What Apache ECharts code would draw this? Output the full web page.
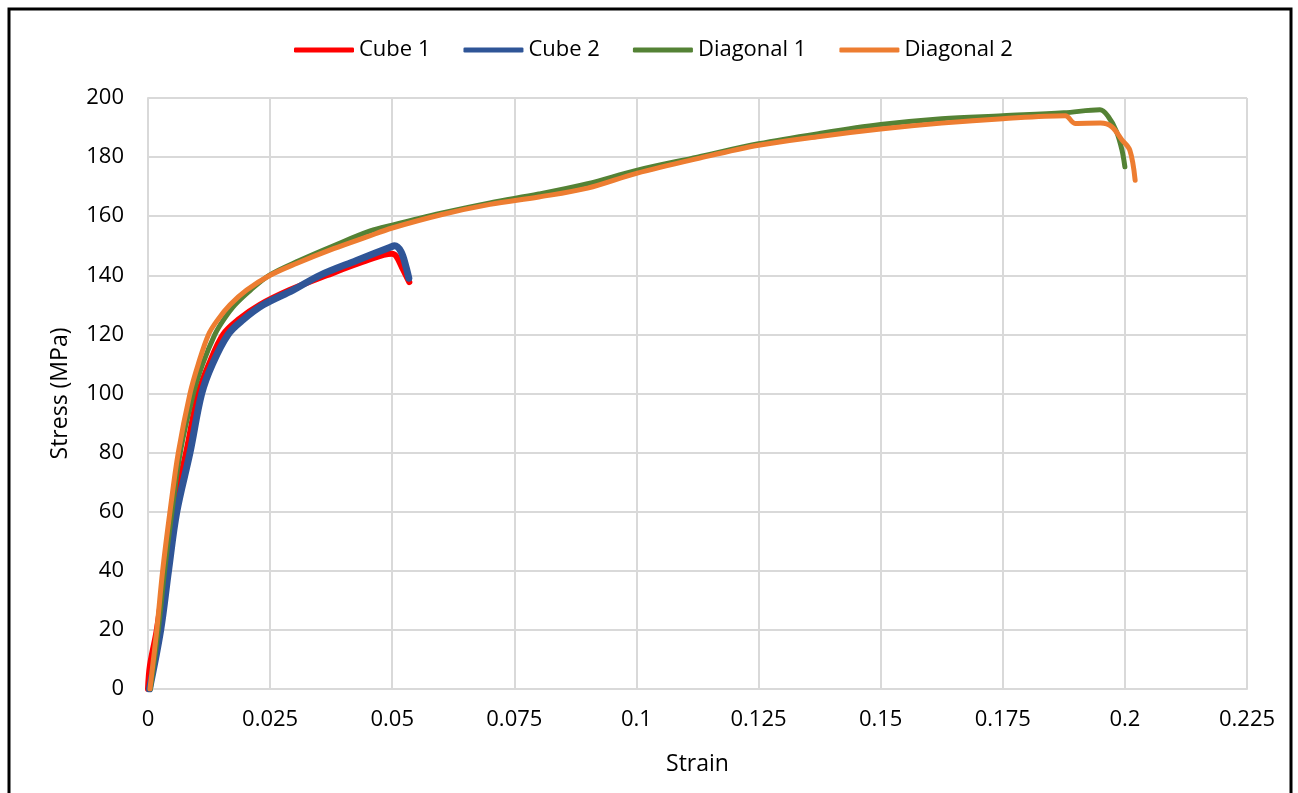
<!DOCTYPE html>
<html>
<head>
<meta charset="utf-8">
<script src="https://cdn.jsdelivr.net/npm/echarts@6/dist/echarts.min.js"></script>
<style>
html, body {
  margin: 0;
  padding: 0;
  background: #fff;
}
#chart {
  width: 1298px;
  height: 793px;
}
</style>
</head>
<body>
<div id="chart"></div>
<script>
// values
const seriesNames = ['Cube 1', 'Cube 2', 'Diagonal 1', 'Diagonal 2']

const cube1Strain = [0, 0.0004, 0.0018, 0.0035, 0.0052, 0.0078, 0.0103, 0.0125, 0.0154, 0.0185, 0.0229, 0.029, 0.0366, 0.0448, 0.0499, 0.0508, 0.0522, 0.0535]
const cube1Stress = [0, 8, 20, 40, 60, 80, 100, 110, 120, 125, 130, 135, 140, 145, 147.3, 146.5, 142, 137.7]

const cube2Strain = [0.0003, 0.0026, 0.0042, 0.0059, 0.0086, 0.011, 0.0132, 0.0164, 0.0195, 0.0236, 0.0297, 0.0352, 0.0427, 0.0496, 0.0505, 0.0518, 0.0528, 0.0534]
const cube2Stress = [0, 20, 40, 60, 80, 100, 110, 120, 125, 130, 135, 140, 145, 149.5, 150, 148, 143, 139]

const diag1Strain = [0.0005, 0.0021, 0.0034, 0.0049, 0.0066, 0.0093, 0.0112, 0.0137, 0.0155, 0.0178, 0.021, 0.0248, 0.031, 0.038, 0.0455, 0.05, 0.06, 0.07, 0.08, 0.09, 0.1, 0.1125, 0.125, 0.1375, 0.15, 0.1625, 0.175, 0.1875, 0.1949, 0.1966, 0.1983, 0.1994, 0.2]
const diag1Stress = [0, 20, 40, 60, 80, 100, 110, 120, 125, 130, 135, 140, 145, 150, 155, 157, 161, 164.5, 167.5, 171, 175.5, 180, 184.5, 188, 191, 193, 194, 195, 196, 193.7, 188.6, 182.4, 176.7]

const diag2Strain = [0.0004, 0.0018, 0.003, 0.0045, 0.0062, 0.0086, 0.0103, 0.0124, 0.0143, 0.0168, 0.0202, 0.025, 0.0304, 0.038, 0.0448, 0.05, 0.06, 0.07, 0.08, 0.09, 0.1, 0.1125, 0.125, 0.1375, 0.15, 0.1625, 0.175, 0.1878, 0.1898, 0.195, 0.1973, 0.1994, 0.201, 0.2021]
const diag2Stress = [0, 20, 40, 60, 80, 100, 110, 120, 125, 130, 135, 140, 144, 149, 153, 156, 160.5, 164, 166.5, 169.5, 174.5, 179.5, 184, 187, 189.5, 191.5, 193, 194, 191.4, 191.5, 190.3, 185.8, 182.4, 172.2]

const strainTicks = [0, 0.025, 0.05, 0.075, 0.1, 0.125, 0.15, 0.175, 0.2, 0.225]

const colors = ['#FF0000', '#2F5597', '#548235', '#ED7D31']
const widths = [6, 7, 5, 5]

function pairs (xs, ys) {
  return xs.map((x, i) => [x, ys[i]])
}

const allData = [
  pairs(cube1Strain, cube1Stress),
  pairs(cube2Strain, cube2Stress),
  pairs(diag1Strain, diag1Stress),
  pairs(diag2Strain, diag2Stress)
]

const font = '"Open Sans", "Noto Sans", sans-serif'
const gridColor = '#D9D9D9'

const chart = echarts.init(document.getElementById('chart'))

const option = {
  animation: false,
  color: colors,
  textStyle: { fontFamily: font },
  graphic: [
    {
      type: 'rect',
      shape: { x: 9, y: 9, width: 1282, height: 800 },
      style: { fill: 'none', stroke: '#000', lineWidth: 3 },
      silent: true
    }
  ],
  legend: {
    top: 34,
    left: 289,
    itemWidth: 60,
    itemHeight: 5,
    itemGap: 33,
    icon: 'roundRect',
    textStyle: { fontSize: 22, color: '#000', fontFamily: font },
    data: seriesNames
  },
  grid: {
    left: 148,
    right: 51,
    top: 98,
    bottom: 104,
    containLabel: false
  },
  xAxis: {
    type: 'value',
    min: 0,
    max: 0.225,
    interval: 0.025,
    name: 'Strain',
    nameLocation: 'middle',
    nameGap: 64,
    nameTextStyle: { fontSize: 23, color: '#000', fontFamily: font },
    axisLine: { show: true, lineStyle: { color: gridColor, width: 2 } },
    axisTick: { show: false },
    axisLabel: {
      fontSize: 22,
      color: '#000',
      margin: 20,
      formatter: v => {
        const t = strainTicks.find(s => Math.abs(s - v) < 1e-9)
        return t === undefined ? '' : String(t)
      }
    },
    splitLine: { show: true, lineStyle: { color: gridColor, width: 2 } }
  },
  yAxis: {
    type: 'value',
    min: 0,
    max: 200,
    interval: 20,
    name: 'Stress (MPa)',
    nameLocation: 'middle',
    nameGap: 76,
    nameTextStyle: { fontSize: 23, color: '#000', fontFamily: font },
    axisLine: { show: true, lineStyle: { color: gridColor, width: 2 } },
    axisTick: { show: false },
    axisLabel: { fontSize: 22, color: '#000', margin: 24 },
    splitLine: { show: true, lineStyle: { color: gridColor, width: 2 } }
  },
  series: seriesNames.map((name, i) => ({
    name,
    type: 'line',
    showSymbol: false,
    symbol: 'none',
    smooth: 0.35,
    lineStyle: { color: colors[i], width: widths[i], cap: 'round', join: 'round' },
    itemStyle: { color: colors[i] },
    data: allData[i]
  }))
}

chart.setOption(option)
</script>
</body>
</html>
